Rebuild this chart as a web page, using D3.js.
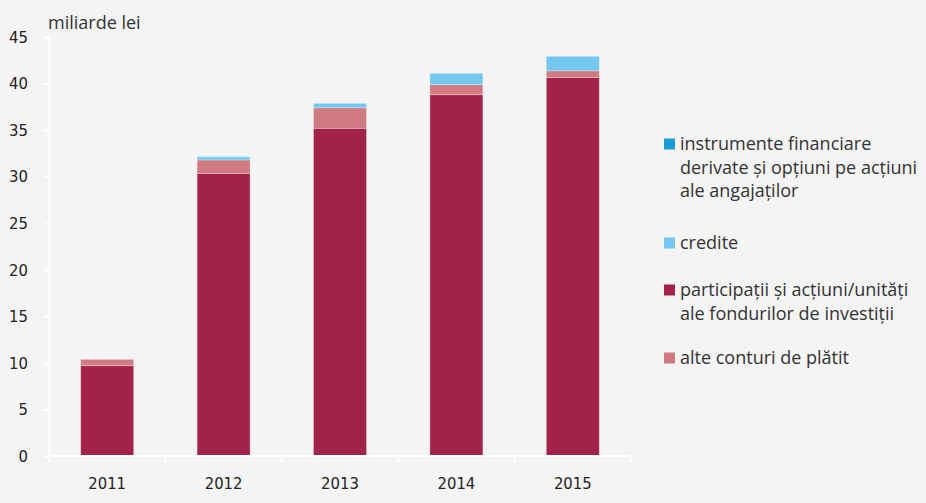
<!DOCTYPE html>
<html>
<head>
<meta charset="utf-8">
<script src="https://cdn.jsdelivr.net/npm/d3@7"></script>
<style>
  body { margin: 0; background: #f4f4f4; }
  svg { display: block; }
  .tick text { font-family: "Liberation Sans Narrow", "DejaVu Sans Condensed", sans-serif; font-size: 16.5px; fill: #222; }
  .legend text, .unit { font-family: "Open Sans", "Noto Sans", sans-serif; font-size: 18px; fill: #333; }
</style>
</head>
<body>
<svg id="chart" width="926" height="503"></svg>
<script>
const years = ['2011', '2012', '2013', '2014', '2015'];
// stacked bottom to top
const participatii = [9.7, 30.35, 35.2, 38.8, 40.65];
const alteConturi = [0.68, 1.45, 2.2, 1.08, 0.72];
const credite = [0.0, 0.33, 0.45, 1.2, 1.52];
const instrumente = [0.0, 0.02, 0.03, 0.03, 0.04];
const yTicks = [0, 5, 10, 15, 20, 25, 30, 35, 40, 45];

const series = [
  { key: 'participatii', values: participatii, color: '#a3224a' },
  { key: 'alte', values: alteConturi, color: '#d07b82' },
  { key: 'credite', values: credite, color: '#72c8ee' },
  { key: 'instrumente', values: instrumente, color: '#1a9ad6' },
];

const legendItems = [
  { color: '#1a9ad6', lines: ['instrumente financiare', 'derivate și opțiuni pe acțiuni', 'ale angajaților'], y: 144 },
  { color: '#72c8ee', lines: ['credite'], y: 243 },
  { color: '#a3224a', lines: ['participații și acțiuni/unități', 'ale fondurilor de investiții'], y: 290 },
  { color: '#d07b82', lines: ['alte conturi de plătit'], y: 358 },
];

const svg = d3.select('#chart');
const margin = { left: 49, right: 295, top: 37, bottom: 47 };
const width = 926 - margin.left - margin.right;
const height = 503 - margin.top - margin.bottom;

const rows = years.map((y, i) => {
  const r = { year: y };
  series.forEach(s => { r[s.key] = s.values[i]; });
  return r;
});
const stack = d3.stack().keys(series.map(s => s.key))(rows);

const x = d3.scaleBand().domain(years).range([0, width]).paddingInner(0.545).paddingOuter(0.2725);
const xBounds = d3.scaleLinear().domain([0, years.length]).range([0, width]);
const y = d3.scaleLinear().domain([0, 45]).range([height, 0]);

const g = svg.append('g').attr('transform', `translate(${margin.left},${margin.top})`);

// bars
g.selectAll('g.layer')
  .data(stack)
  .join('g')
  .attr('class', 'layer')
  .attr('fill', (d, i) => series[i].color)
  .selectAll('rect')
  .data(d => d)
  .join('rect')
  .attr('x', d => x(d.data.year))
  .attr('width', x.bandwidth())
  .attr('y', d => y(d[1]))
  .attr('height', d => Math.max(0, y(d[0]) - y(d[1])))
  .attr('stroke', 'rgba(255,255,255,0.35)')
  .attr('stroke-width', 0.8);

// y axis
const yAxis = g.append('g')
  .call(d3.axisLeft(y).tickValues(yTicks).tickSize(5).tickPadding(16));
yAxis.select('.domain').attr('stroke', '#fff').attr('stroke-width', 2);
yAxis.selectAll('.tick line').attr('stroke', '#fff').attr('stroke-width', 2);

// x axis
const xAxis = g.append('g').attr('transform', `translate(0,${height})`);
xAxis.append('line')
  .attr('x1', 0).attr('x2', width)
  .attr('stroke', '#fff').attr('stroke-width', 2);
xAxis.selectAll('line.sep')
  .data(d3.range(years.length + 1))
  .join('line')
  .attr('class', 'sep')
  .attr('x1', d => xBounds(d)).attr('x2', d => xBounds(d))
  .attr('y1', 0).attr('y2', 6)
  .attr('stroke', '#fff').attr('stroke-width', 2);
xAxis.selectAll('g.tick')
  .data(years)
  .join('g')
  .attr('class', 'tick')
  .append('text')
  .attr('x', d => x(d) + x.bandwidth() / 2)
  .attr('y', 33)
  .attr('text-anchor', 'middle')
  .text(d => d);

// unit label
svg.append('text')
  .attr('class', 'unit')
  .attr('x', 48)
  .attr('y', 29)
  .text('miliarde lei');

// legend
const legend = svg.append('g').attr('class', 'legend');
const lineH = 23.5;
legendItems.forEach(item => {
  legend.append('rect')
    .attr('x', 664).attr('y', item.y - 5.5)
    .attr('width', 11).attr('height', 11)
    .attr('fill', item.color);
  item.lines.forEach((t, j) => {
    legend.append('text')
      .attr('x', 680)
      .attr('y', item.y + j * lineH)
      .attr('dy', '0.35em')
      .text(t);
  });
});
</script>
</body>
</html>
